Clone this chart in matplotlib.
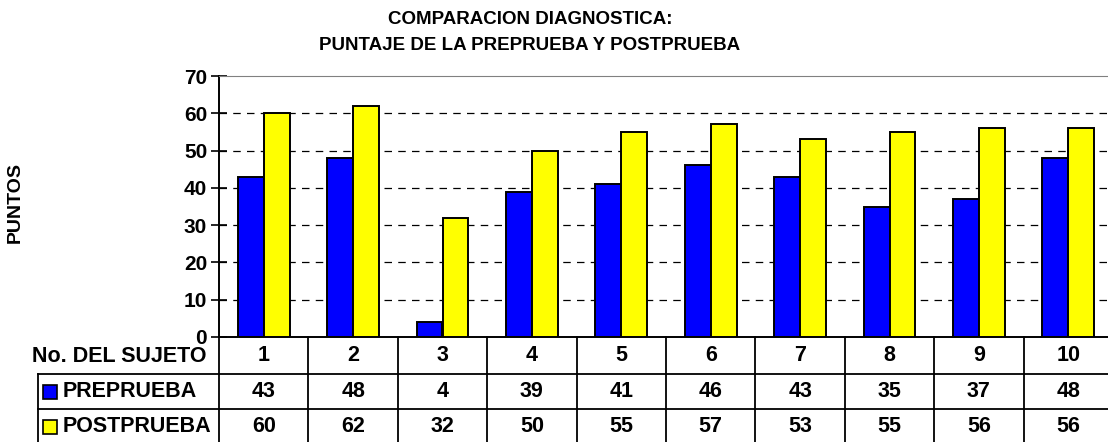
import matplotlib
matplotlib.use('Agg')
import matplotlib.pyplot as plt
from matplotlib.transforms import blended_transform_factory
import numpy as np

# data
sujetos = ['1', '2', '3', '4', '5', '6', '7', '8', '9', '10']
preprueba = [43, 48, 4, 39, 41, 46, 43, 35, 37, 48]
postprueba = [60, 62, 32, 50, 55, 57, 53, 55, 56, 56]
series_names = ['PREPRUEBA', 'POSTPRUEBA']
series_colors = ['#0000FF', '#FFFF00']

plt.rcParams['font.family'] = ['Liberation Sans', 'DejaVu Sans']
plt.rcParams['font.weight'] = 'bold'

W, H = 1108, 442
fig = plt.figure(figsize=(W / 100, H / 100), dpi=100)

# plot area in pixels (right edge runs slightly past the image)
left_px, right_px, top_px, bottom_px = 219, 1113, 76, 337
ax = fig.add_axes([left_px / W, 1 - bottom_px / H,
                   (right_px - left_px) / W, (bottom_px - top_px) / H])

x = np.arange(len(sujetos))
bw = 0.29
ax.bar(x - bw / 2, preprueba, bw, color=series_colors[0], edgecolor='black', linewidth=1.4, zorder=3)
ax.bar(x + bw / 2, postprueba, bw, color=series_colors[1], edgecolor='black', linewidth=1.4, zorder=3)

ax.set_xlim(-0.5, len(sujetos) - 0.5)
ax.set_ylim(0, 70)
ax.set_yticks(range(0, 71, 10))
ax.set_yticklabels([str(v) for v in range(0, 71, 10)], fontsize=15, fontweight='bold')
ax.tick_params(axis='y', direction='inout', length=11, width=1.2, pad=3)
ax.set_xticks([])
for v in range(10, 70, 10):
    ax.axhline(v, color='black', linestyle=(0, (6, 5)), linewidth=0.9, zorder=1)

ax.spines['left'].set_linewidth(1.4)
ax.spines['bottom'].set_linewidth(1.4)
ax.spines['top'].set_color('#808080')
ax.spines['right'].set_color('#808080')

fig.text(15 / W, 1 - 203 / H, 'PUNTOS', rotation=90, ha='center', va='center',
         fontsize=14, fontweight='bold')

fig.text(530 / W, 1 - 19 / H, 'COMPARACION DIAGNOSTICA:', ha='center', va='center',
         fontsize=13.5, fontweight='bold')
fig.text(530 / W, 1 - 45 / H, 'PUNTAJE DE LA PREPRUEBA Y POSTPRUEBA', ha='center', va='center',
         fontsize=13.5, fontweight='bold')

# data table below the axis
tr = blended_transform_factory(ax.transData, fig.transFigure)
fy = lambda py: 1 - py / H
rows_px = [337, 374, 409, 444]
table_left_px = 38
lw = 1.3
fs = 15.5

# vertical lines at category boundaries
for b in np.arange(-0.5, len(sujetos) + 0.5, 1):
    ax.plot([b, b], [fy(rows_px[0]), fy(rows_px[-1])], transform=tr,
            color='black', lw=lw, clip_on=False)
# horizontal row lines
for py in rows_px[1:]:
    fig.add_artist(plt.Line2D([table_left_px / W, right_px / W], [fy(py), fy(py)],
                              color='black', lw=lw))
fig.add_artist(plt.Line2D([table_left_px / W, table_left_px / W], [fy(rows_px[1]), fy(rows_px[-1])],
                          color='black', lw=lw))

# header row
for i, s in enumerate(sujetos):
    ax.text(i, fy((rows_px[0] + rows_px[1]) / 2), s, transform=tr, ha='center', va='center',
            fontsize=fs, fontweight='bold')
fig.text(207 / W, fy(356), 'No. DEL SUJETO', ha='right', va='center', fontsize=fs, fontweight='bold')

# series rows
for r, (name, vals, col) in enumerate(zip(series_names, [preprueba, postprueba], series_colors)):
    yc = fy((rows_px[r + 1] + rows_px[r + 2]) / 2)
    for i, v in enumerate(vals):
        ax.text(i, yc, str(v), transform=tr, ha='center', va='center',
                fontsize=fs, fontweight='bold')
    fig.add_artist(plt.Rectangle((43 / W, yc - 7 / H), 14 / W, 14 / H, facecolor=col,
                                 edgecolor='black', lw=1.2))
    fig.text(63 / W, yc, name, ha='left', va='center', fontsize=fs, fontweight='bold')

fig.savefig('out.png', dpi=100, facecolor='white')
